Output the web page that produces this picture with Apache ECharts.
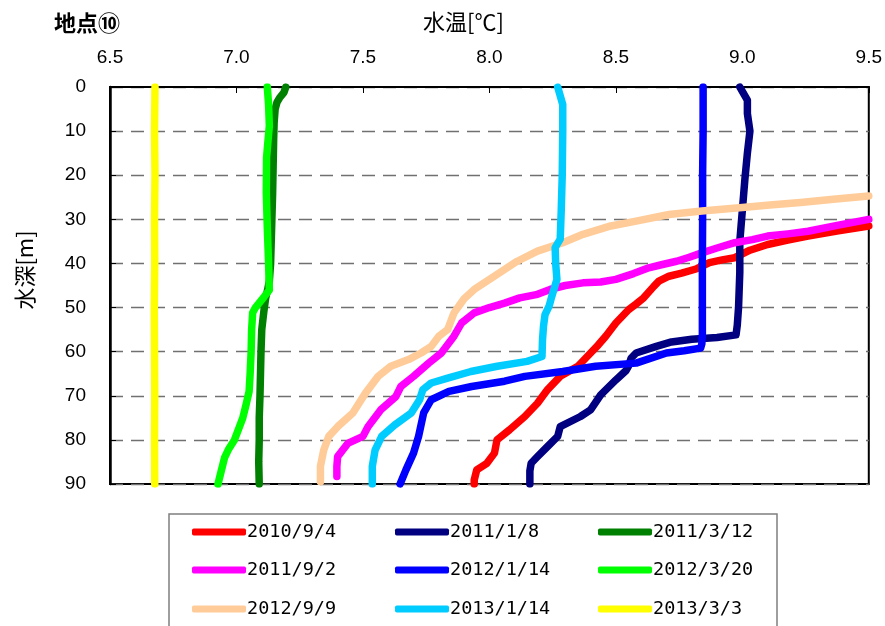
<!DOCTYPE html>
<html>
<head>
<meta charset="utf-8">
<script src="https://cdn.jsdelivr.net/npm/echarts@6/dist/echarts.min.js"></script>
<style>
  html, body { margin: 0; padding: 0; background: #fff; }
  #chart { width: 885px; height: 626px; }
</style>
</head>
<body>
<div id="chart"></div>
<script>
// Water temperature profiles: each point is [temperature (°C), depth (m)]
const seriesNames = ['2010/9/4', '2011/1/8', '2011/3/12', '2011/9/2', '2012/1/14', '2012/3/20', '2012/9/9', '2013/1/14', '2013/3/3'];
const seriesColors = ['#FF0000', '#000080', '#008000', '#FF00FF', '#0000FF', '#00FF00', '#FFCC99', '#00CCFF', '#FFFF00'];
const tempTicks = [6.5, 7.0, 7.5, 8.0, 8.5, 9.0, 9.5];
const depthTicks = [0, 10, 20, 30, 40, 50, 60, 70, 80, 90];

const p20100904 = [[9.50,31.5],[9.38,32.6],[9.26,33.8],[9.18,34.7],[9.10,35.7],[9.03,37.0],[8.97,38.7],[8.92,39.2],[8.87,39.8],[8.82,41.2],[8.76,42.2],[8.71,42.9],[8.67,44.0],[8.65,45.2],[8.61,47.8],[8.58,49.2],[8.55,50.5],[8.50,53.5],[8.46,56.5],[8.43,58.5],[8.40,60.3],[8.35,63.3],[8.28,65.6],[8.23,68.6],[8.19,71.7],[8.14,74.7],[8.08,77.7],[8.03,80.0],[8.02,83.0],[7.99,85.3],[7.95,86.8],[7.94,89.1],[7.94,90.0]];
const p20110108 = [[8.99,0],[9.00,1],[9.02,3],[9.02,6],[9.03,10],[9.02,15],[9.01,21],[9.00,28],[8.99,35],[8.99,42],[8.985,50],[8.98,54],[8.975,56.2],[8.90,56.8],[8.80,57.2],[8.72,57.8],[8.66,58.8],[8.58,60.3],[8.56,61.5],[8.55,63.3],[8.54,64.3],[8.50,66.4],[8.44,69.8],[8.40,73.2],[8.36,74.7],[8.28,77.0],[8.27,79.2],[8.23,81.5],[8.19,83.8],[8.165,85.3],[8.16,87],[8.16,90]];
const p20110312 = [[7.195,0],[7.188,1.2],[7.17,2.5],[7.16,3.5],[7.153,5],[7.149,8],[7.147,12],[7.145,18],[7.143,24],[7.14,30],[7.137,36],[7.135,40],[7.13,44],[7.123,46],[7.115,48],[7.108,51],[7.10,55],[7.097,60],[7.095,65],[7.093,70],[7.09,75],[7.09,80],[7.088,85],[7.09,90]];
const p20110902 = [[9.50,30.0],[9.38,31.3],[9.26,32.7],[9.18,33.3],[9.10,33.8],[9.04,34.6],[8.97,35.3],[8.90,36.5],[8.84,37.6],[8.79,38.6],[8.74,39.5],[8.68,40.3],[8.63,41.0],[8.57,42.3],[8.50,43.6],[8.44,44.2],[8.37,44.4],[8.30,45.0],[8.24,45.9],[8.19,47.0],[8.12,47.8],[8.06,49.0],[8.00,50.0],[7.94,51.2],[7.89,53.5],[7.86,56.5],[7.81,60.3],[7.76,62.6],[7.70,65.6],[7.65,67.9],[7.63,70.2],[7.57,73.2],[7.52,77.0],[7.50,79.2],[7.44,80.8],[7.40,83.8],[7.397,86],[7.397,88.3]];
const p20120114 = [[8.845,0],[8.845,10],[8.843,20],[8.843,30],[8.842,40],[8.842,50],[8.842,56],[8.84,58.2],[8.835,59.2],[8.77,59.8],[8.70,60.3],[8.58,62.6],[8.42,63.3],[8.29,64.5],[8.14,65.6],[8.06,66.7],[7.93,67.9],[7.84,69.0],[7.77,70.9],[7.74,73.9],[7.72,79.2],[7.70,83.0],[7.67,86.8],[7.647,90]];
const p20120320 = [[7.122,0],[7.127,4],[7.13,8.8],[7.125,12],[7.119,16],[7.118,24],[7.122,32],[7.127,40],[7.13,46],[7.11,47.5],[7.075,50],[7.064,51.2],[7.06,55],[7.058,60],[7.054,65],[7.05,69],[7.038,72],[7.025,75],[7.012,77],[6.992,80],[6.97,82],[6.953,84],[6.94,87],[6.927,90]];
const p20120909 = [[9.50,24.7],[9.37,25.4],[9.23,26.2],[9.12,26.7],[9.00,27.3],[8.84,28.1],[8.71,28.9],[8.58,30.4],[8.48,31.5],[8.37,33.4],[8.29,35.3],[8.19,37.2],[8.11,39.5],[8.02,42.9],[7.94,45.9],[7.90,48.0],[7.86,51.2],[7.835,55.0],[7.80,56.5],[7.77,58.8],[7.73,60.3],[7.68,61.8],[7.61,63.3],[7.56,65.6],[7.51,69.4],[7.46,73.9],[7.40,77.0],[7.365,79.2],[7.345,82.3],[7.332,86.0],[7.332,89.5]];
const p20130114 = [[8.27,0],[8.28,2],[8.29,4],[8.29,10],[8.288,20],[8.284,28],[8.28,34.5],[8.26,36.4],[8.262,40],[8.267,43.6],[8.247,47.4],[8.236,49.7],[8.22,51.6],[8.214,54.2],[8.21,57.3],[8.208,61.1],[8.149,62.2],[8.031,63.3],[7.927,64.5],[7.835,66.0],[7.77,67.1],[7.737,68.6],[7.724,70.9],[7.691,73.9],[7.626,76.6],[7.574,79.2],[7.548,82.3],[7.537,86.0],[7.537,90]];
const p20130303 = [[6.678,0],[6.676,10],[6.678,20],[6.676,30],[6.677,40],[6.675,50],[6.676,60],[6.677,70],[6.676,80],[6.677,90]];

const profiles = [p20100904, p20110108, p20110312, p20110902, p20120114, p20120320, p20120909, p20130114, p20130303];

const FONT = '"Noto Sans CJK JP", "Noto Sans", sans-serif';
const NUMFONT = '"Liberation Sans", "Noto Sans", sans-serif';
const MONOFONT = '"DejaVu Sans Mono", "Liberation Mono", monospace';

const chart = echarts.init(document.getElementById('chart'), null, { renderer: 'canvas' });

// legend laid out as a 3 x 3 table: entry i goes to row floor(i/3), column i%3
const legendColX = [192, 395, 598];
const legendRowY = [522, 560, 599];

const option = {
  animation: false,
  backgroundColor: '#fff',
  color: seriesColors,
  title: [
    { text: '地点⑩', left: 49, top: 7, textStyle: { fontFamily: FONT, fontSize: 22, fontWeight: 'bold', color: '#000' } },
    { text: '水温[℃]', left: 418, top: 6, textStyle: { fontFamily: FONT, fontSize: 22, fontWeight: 'normal', color: '#000' } }
  ],
  grid: {
    left: 110, top: 87, right: 12, bottom: 142,
    show: true, borderColor: '#000', borderWidth: 2, backgroundColor: 'transparent'
  },
  xAxis: {
    type: 'value', position: 'top',
    min: 6.5, max: 9.5, interval: 0.5,
    axisLine: { show: true, lineStyle: { color: '#000', width: 2 } },
    axisTick: { show: true, inside: true, length: 6, lineStyle: { color: '#000', width: 1 } },
    axisLabel: {
      margin: 20, fontSize: 19, fontFamily: NUMFONT, color: '#000',
      customValues: tempTicks,
      formatter: v => v.toFixed(1)
    },
    splitLine: { show: false }
  },
  yAxis: {
    type: 'value', inverse: true,
    min: 0, max: 90, interval: 10,
    axisLine: { show: true, lineStyle: { color: '#000', width: 2.5 } },
    axisTick: { show: true, inside: true, length: 6, lineStyle: { color: '#000', width: 1 } },
    axisLabel: { margin: 24, fontSize: 19, fontFamily: NUMFONT, color: '#000', customValues: depthTicks },
    splitLine: { show: true, lineStyle: { color: '#707070', width: 1.3, type: [13, 8] } }
  },
  legend: seriesNames.map((name, i) => ({
    orient: 'horizontal',
    left: legendColX[i % 3], top: legendRowY[Math.floor(i / 3)],
    padding: 0,
    data: [name],
    icon: 'roundRect',
    itemWidth: 54, itemHeight: 7,
    selectedMode: false,
    textStyle: { fontFamily: MONOFONT, fontSize: 18.5, color: '#000', lineHeight: 20, padding: [0, 0, 0, -4] }
  })),
  graphic: [
    { type: 'rect', shape: { x: 169, y: 514, width: 608, height: 140 }, style: { fill: 'none', stroke: '#7f7f7f', lineWidth: 1.5 }, z: 0 },
    { type: 'text', x: 25, y: 270, rotation: Math.PI / 2, style: { text: '水深[m]', font: '22px ' + FONT, fill: '#000', align: 'center', verticalAlign: 'middle' } }
  ],
  series: profiles.map((pts, i) => ({
    name: seriesNames[i],
    type: 'line',
    data: pts,
    showSymbol: false,
    symbol: 'none',
    smooth: false,
    clip: true,
    z: 2 + i,
    lineStyle: { width: 7.5, color: seriesColors[i], cap: 'round', join: 'round' },
    itemStyle: { color: seriesColors[i] }
  }))
};

chart.setOption(option);
</script>
</body>
</html>
